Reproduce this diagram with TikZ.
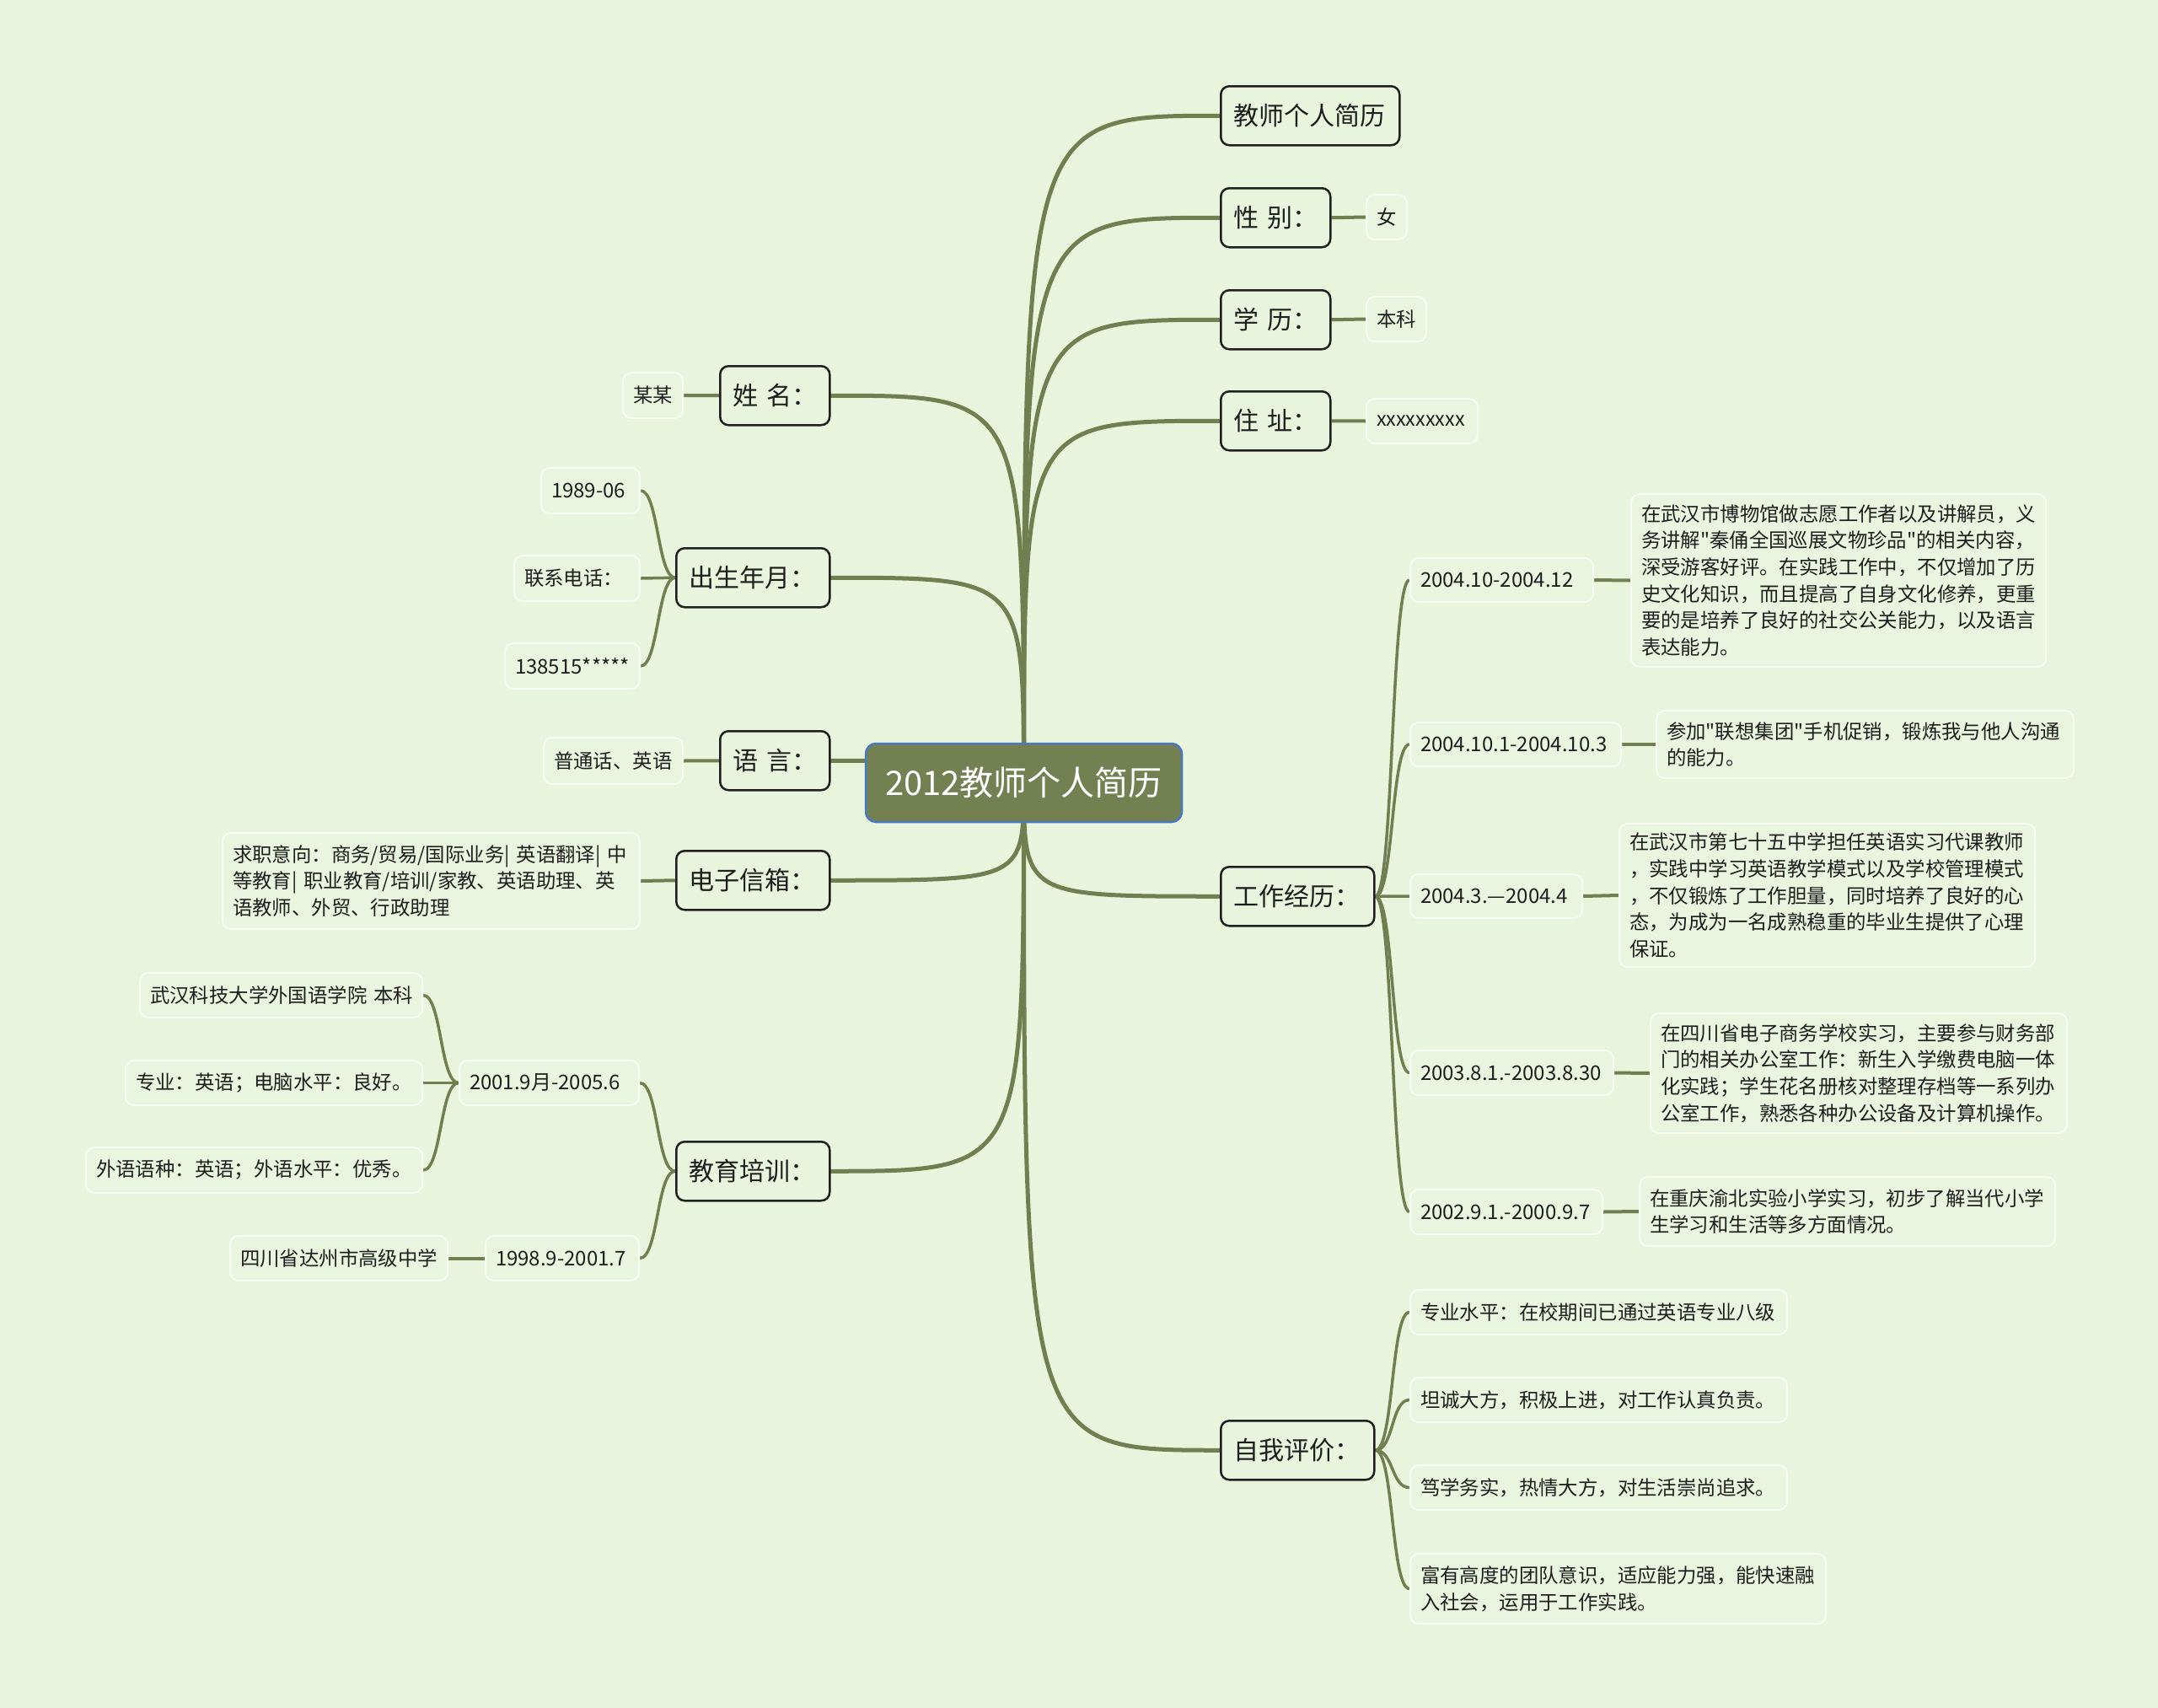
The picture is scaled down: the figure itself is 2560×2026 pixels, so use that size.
\documentclass[tikz,border=0pt]{standalone}
\usepackage{fontspec}
\setmainfont{Noto Sans CJK SC}
\newfontfamily\cjkf{Noto Sans CJK SC}
\definecolor{bgc}{HTML}{E8F4DC}
\definecolor{linec}{HTML}{717F50}
\definecolor{rootfill}{HTML}{738152}
\definecolor{rootdraw}{HTML}{4A78BE}
\definecolor{leafdraw}{HTML}{F7FBF2}
\definecolor{leaffill}{HTML}{E9F5DF}
\definecolor{txt}{HTML}{1E1E1E}
\pgfdeclarelayer{bglayer}
\pgfdeclarelayer{linelayer}
\pgfsetlayers{bglayer,linelayer,main}
\tikzset{
  rootnode/.style={draw=rootdraw, fill=rootfill, line width=2.5pt, rounded corners=12pt, text=white,
    font=\cjkf\fontsize{40}{48}\selectfont, minimum width=375pt, minimum height=93pt, inner sep=0pt},
  lone/.style={draw=black!88, fill=bgc, line width=2.5pt, rounded corners=10pt, text=txt,
    font=\cjkf\fontsize{30}{36}\selectfont, minimum height=70pt, inner xsep=15pt, inner ysep=0pt,
    anchor=north west, align=left},
  leaf/.style={draw=leafdraw, fill=leaffill, line width=2pt, rounded corners=10pt, text=txt,
    font=\cjkf\fontsize{23.4}{31.7}\selectfont, inner xsep=12pt, inner ysep=0pt,
    anchor=north west, align=left},
  datef/.style={font=\cjkf\fontsize{24}{31.7}\selectfont},
  trunk/.style={draw=linec, line width=5pt, line cap=round},
  twig/.style={draw=linec, line width=3.5pt},
  bar/.style={draw=linec, line width=4pt},
}
\begin{document}
\begin{tikzpicture}[x=1pt,y=-1pt]
\useasboundingbox (0,0) rectangle (2560,2026);
\begin{pgfonlayer}{bglayer}
\fill[bgc] (0,0) rectangle (2560,2026);
\end{pgfonlayer}

% root
\node[rootnode] (root) at (1214.5,928.5) {2012教师个人简历};

% right level one
\node[lone, text width=182pt] (n1) at (1447,101) {\mbox{教师个人简历}};
\node[lone, text width=100pt] (n2) at (1447,222) {\mbox{性 别：}};
\node[lone, text width=100pt] (n3) at (1447,343) {\mbox{学 历：}};
\node[lone, text width=100pt] (n4) at (1447,463) {\mbox{住 址：}};
\node[lone, text width=152pt] (n5) at (1447,1027) {\mbox{工作经历：}};
\node[lone, text width=152pt] (n6) at (1447,1684) {\mbox{自我评价：}};

% left level one
\node[lone, text width=100pt] (m1) at (853,433) {\mbox{姓 名：}};
\node[lone, text width=152pt] (m2) at (801,649) {\mbox{出生年月：}};
\node[lone, text width=100pt] (m3) at (853,866) {\mbox{语 言：}};
\node[lone, text width=152pt] (m4) at (801,1008) {\mbox{电子信箱：}};
\node[lone, text width=152pt] (m5) at (801,1353) {\mbox{教育培训：}};

% right values
\node[leaf, text width=24pt, minimum height=53pt] (v2) at (1620,230) {\mbox{女}};
\node[leaf, text width=47pt, minimum height=53pt] (v3) at (1620,351) {\mbox{本科}};
\node[leaf, text width=108pt, minimum height=53pt] (v4) at (1620,472) {\mbox{xxxxxxxxx}};

% work experience
\node[leaf, datef, text width=193pt, minimum height=52pt] (w1) at (1672,661) {\mbox{2004.10-2004.12}};
\node[leaf, text width=468pt, minimum height=205pt] (w1d) at (1934,585)
  {在武汉市博物馆做志愿工作者以及讲解员，义\\务讲解"秦俑全国巡展文物珍品"的相关内容，\\深受游客好评。在实践工作中，不仅增加了历\\史文化知识，而且提高了自身文化修养，更重\\要的是培养了良好的社交公关能力，以及语言\\表达能力。};
\node[leaf, datef, text width=226pt, minimum height=52pt] (w2) at (1672,856) {\mbox{2004.10.1-2004.10.3}};
\node[leaf, text width=471pt, minimum height=80pt] (w2d) at (1964,842)
  {参加"联想集团"手机促销，锻炼我与他人沟通\\的能力。};
\node[leaf, datef, text width=180pt, minimum height=52pt] (w3) at (1672,1036) {\mbox{2004.3.—2004.4}};
\node[leaf, text width=469pt, minimum height=170pt] (w3d) at (1920,976)
  {在武汉市第七十五中学担任英语实习代课教师\\，实践中学习英语教学模式以及学校管理模式\\，不仅锻炼了工作胆量，同时培养了良好的心\\态，为成为一名成熟稳重的毕业生提供了心理\\保证。};
\node[leaf, datef, text width=217pt, minimum height=53pt] (w4) at (1672,1245) {\mbox{2003.8.1.-2003.8.30}};
\node[leaf, text width=470pt, minimum height=142pt] (w4d) at (1957,1201)
  {在四川省电子商务学校实习，主要参与财务部\\门的相关办公室工作：新生入学缴费电脑一体\\化实践；学生花名册核对整理存档等一系列办\\公室工作，熟悉各种办公设备及计算机操作。};
\node[leaf, datef, text width=204pt, minimum height=53pt] (w5) at (1672,1410) {\mbox{2002.9.1.-2000.9.7}};
\node[leaf, text width=469pt, minimum height=82pt] (w5d) at (1944,1395)
  {在重庆渝北实验小学实习，初步了解当代小学\\生学习和生活等多方面情况。};

% self evaluation
\node[leaf, text width=423pt, minimum height=53pt] (s1) at (1672,1529) {\mbox{专业水平：在校期间已通过英语专业八级}};
\node[leaf, text width=423pt, minimum height=53pt] (s2) at (1672,1633) {\mbox{坦诚大方，积极上进，对工作认真负责。}};
\node[leaf, text width=423pt, minimum height=53pt] (s3) at (1672,1737) {\mbox{笃学务实，热情大方，对生活崇尚追求。}};
\node[leaf, text width=469pt, minimum height=83pt] (s4) at (1672,1842)
  {富有高度的团队意识，适应能力强，能快速融\\入社会，运用于工作实践。};

% left leaves
\node[leaf, text width=47pt, minimum height=54pt] (k1) at (738,441) {\mbox{某某}};
\node[leaf, datef, text width=93pt, minimum height=54pt] (b1) at (641,554) {\mbox{1989-06}};
\node[leaf, text width=125pt, minimum height=54pt] (b2) at (609,658) {\mbox{联系电话：}};
\node[leaf, datef, text width=136pt, minimum height=54pt] (b3) at (598,762) {\mbox{138515*****}};
\node[leaf, text width=141pt, minimum height=55pt] (y1) at (644,874) {\mbox{普通话、英语}};
\node[leaf, text width=471pt, minimum height=114pt] (e1) at (263,987)
  {\mbox{求职意向：商务/贸易/国际业务| 英语翻译| 中}\\\mbox{等教育| 职业教育/培训/家教、英语助理、英}\\语教师、外贸、行政助理};
\node[leaf, datef, text width=189pt, minimum height=53pt] (d1) at (544,1257) {\mbox{2001.9月-2005.6}};
\node[leaf, datef, text width=158pt, minimum height=53pt] (d2) at (575,1465) {\mbox{1998.9-2001.7}};
\node[leaf, text width=311pt, minimum height=53pt] (u1) at (165,1153) {\mbox{武汉科技大学外国语学院 本科}};
\node[leaf, text width=328pt, minimum height=53pt] (u2) at (148,1257) {\mbox{专业：英语；电脑水平：良好。}};
\node[leaf, text width=375pt, minimum height=54pt] (u3) at (101,1360) {\mbox{外语语种：英语；外语水平：优秀。}};
\node[leaf, text width=234pt, minimum height=53pt] (h1) at (272,1465) {\mbox{四川省达州市高级中学}};

% connectors
\begin{pgfonlayer}{linelayer}
\foreach \nd in {n1,n2,n3,n4,n5,n6}
  \draw[trunk] (root.center) .. controls (root.center |- \nd.west) .. (\nd.west);
\foreach \nd in {m1,m2,m3,m4,m5}
  \draw[trunk] (root.center) .. controls (root.center |- \nd.east) .. (\nd.east);
\draw[bar] (n2.east) -- (v2.west);
\draw[bar] (n3.east) -- (v3.west);
\draw[bar] (n4.east) -- (v4.west);
\draw[bar] (m1.west) -- (k1.east);
\draw[bar] (m3.west) -- (y1.east);
\draw[bar] (m4.west) -- (e1.east);
\draw[bar] (w1.east) -- (w1d.west);
\draw[bar] (w2.east) -- (w2d.west);
\draw[bar] (w3.east) -- (w3d.west);
\draw[bar] (w4.east) -- (w4d.west);
\draw[bar] (w5.east) -- (w5d.west);
\draw[bar] (d2.west) -- (h1.east);
\foreach \nd in {w1,w2,w3,w4,w5}
  \draw[twig] (n5.east) to[out=0,in=180,distance=22pt] (\nd.west);
\foreach \nd in {s1,s2,s3,s4}
  \draw[twig] (n6.east) to[out=0,in=180,distance=22pt] (\nd.west);
\foreach \nd in {b1,b2,b3}
  \draw[twig] (m2.west) to[out=180,in=0,distance=21pt] (\nd.east);
\foreach \nd in {d1,d2}
  \draw[twig] (m5.west) to[out=180,in=0,distance=22pt] (\nd.east);
\foreach \nd in {u1,u2,u3}
  \draw[twig] (d1.west) to[out=180,in=0,distance=22pt] (\nd.east);
\end{pgfonlayer}
\end{tikzpicture}
\end{document}
